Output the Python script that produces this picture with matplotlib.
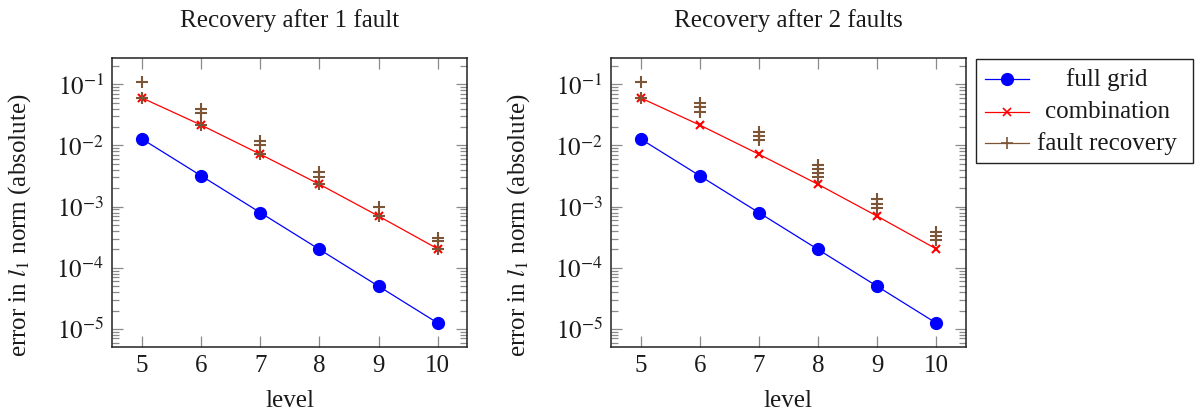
import matplotlib
matplotlib.use("Agg")
import matplotlib.pyplot as plt
from matplotlib.lines import Line2D
from matplotlib.patches import Rectangle
from matplotlib.ticker import FixedLocator, LogLocator, NullFormatter

plt.rcParams["font.family"] = ["Liberation Serif", "DejaVu Serif"]
plt.rcParams["mathtext.fontset"] = "stix"

# --- data ---
levels = [5, 6, 7, 8, 9, 10]
full_grid = [1.28e-2, 3.2e-3, 8.0e-4, 2.0e-4, 5.0e-5, 1.25e-5]
combination = [6.0e-2, 2.16e-2, 7.2e-3, 2.32e-3, 7.0e-4, 2.04e-4]

# fault recovery, 1 fault (one point per recovered fault position)
fr1_levels = [5, 5, 6, 6, 6, 7, 7, 7, 8, 8, 8, 9, 9, 10, 10, 10]
fr1_values = [0.11, 0.06, 0.039, 0.0344, 0.0216, 0.012, 0.0102, 0.0072,
              0.00373, 0.0031, 0.00232, 0.001, 0.0007,
              0.000305, 0.000275, 0.000204]

# fault recovery, 2 faults
fr2_levels = [5, 5, 6, 6, 6, 7, 7, 7, 8, 8, 8, 8, 9, 9, 9, 10, 10, 10]
fr2_values = [0.11, 0.06, 0.05, 0.042, 0.0357, 0.0168, 0.0143, 0.0123,
              0.0048, 0.0041, 0.00352, 0.0031, 0.00132, 0.00111, 0.00094,
              0.00039, 0.00033, 0.000285]

titles = ["Recovery after 1 fault", "Recovery after 2 faults"]
y_exponents = [-1, -2, -3, -4, -5]
legend_labels = ["full grid", "combination", "fault recovery"]

BLUE = "#0000ff"
RED = "#ff0000"
BROWN = "#7b5535"
TICK = "#8a8a8a"
FS = 18

W, H = 1195, 416
fig = plt.figure(figsize=(W / 100, H / 100), dpi=100)


def px_axes(x0, y0, x1, y1):
    return fig.add_axes([x0 / W, 1 - y1 / H, (x1 - x0) / W, (y1 - y0) / H])


axes = [px_axes(112.3, 57.7, 467.3, 347.0), px_axes(611.0, 57.7, 965.7, 347.0)]
faults = [(fr1_levels, fr1_values), (fr2_levels, fr2_values)]

for ax, title, (fl, fv) in zip(axes, titles, faults):
    ax.plot(levels, full_grid, color=BLUE, lw=0.9, marker="o", ms=8.5,
            mec=BLUE, mfc=BLUE, zorder=3)
    ax.plot(levels, combination, color=RED, lw=0.9, marker="x", ms=6,
            mew=1.5, zorder=4)
    ax.plot(fl, fv, ls="none", color=BROWN, marker="+", ms=9, mew=1.5,
            zorder=5)

    ax.set_yscale("log")
    ax.set_xlim(4.5, 10.5)
    ax.set_ylim(10 ** -5.295, 10 ** -0.565)
    ax.set_xticks(levels)
    ax.set_xticklabels([str(l) for l in levels])
    ax.yaxis.set_major_locator(FixedLocator([10.0 ** e for e in y_exponents]))
    ax.set_yticklabels([r"$10^{%d}$" % e for e in y_exponents])
    ax.yaxis.set_minor_locator(LogLocator(base=10, subs=range(2, 10), numticks=20))
    ax.yaxis.set_minor_formatter(NullFormatter())

    ax.tick_params(which="both", direction="in", top=True, right=True,
                   color=TICK, width=0.9, labelsize=FS, labelcolor="#1a1a1a")
    ax.tick_params(which="major", length=7.7, pad=6)
    ax.tick_params(which="minor", length=5)
    for s in ax.spines.values():
        s.set_linewidth(1.1)
        s.set_color("#222222")

    ax.set_title(title, fontsize=FS, pad=22, color="#1a1a1a")
    ax.set_xlabel("level", fontsize=FS, color="#1a1a1a", labelpad=9)
    ax.set_ylabel(r"error in $l_1$ norm (absolute)", fontsize=FS, color="#1a1a1a")
    ax.yaxis.set_label_coords(-0.222, 0.422)

# legend drawn by hand so the labels can be centred like the reference
box = Rectangle((975.7 / W, 1 - 163.3 / H), (1192.7 - 975.7) / W, (163.3 - 59) / H,
                transform=fig.transFigure, fill=False, ec="#222222", lw=1.0)
fig.patches.append(box)
rows_y = [79.3, 111.7, 143.3]
colors = [BLUE, RED, BROWN]
marks = [dict(marker="o", ms=8.5), dict(marker="x", ms=6, mew=1.2),
         dict(marker="+", ms=9, mew=1.2)]
for y, lab, c, mk in zip(rows_y, legend_labels, colors, marks):
    yf = 1 - y / H
    fig.lines.append(Line2D([985 / W, 1029.3 / W], [yf, yf],
                            transform=fig.transFigure, lw=0.9, color=c))
    fig.lines.append(Line2D([1007 / W], [yf], transform=fig.transFigure,
                            ls="none", color=c, **mk))
    fig.text(1107 / W, yf, lab, fontsize=FS, ha="center", va="center",
             color="#1a1a1a")

fig.savefig("out.png", dpi=100)
